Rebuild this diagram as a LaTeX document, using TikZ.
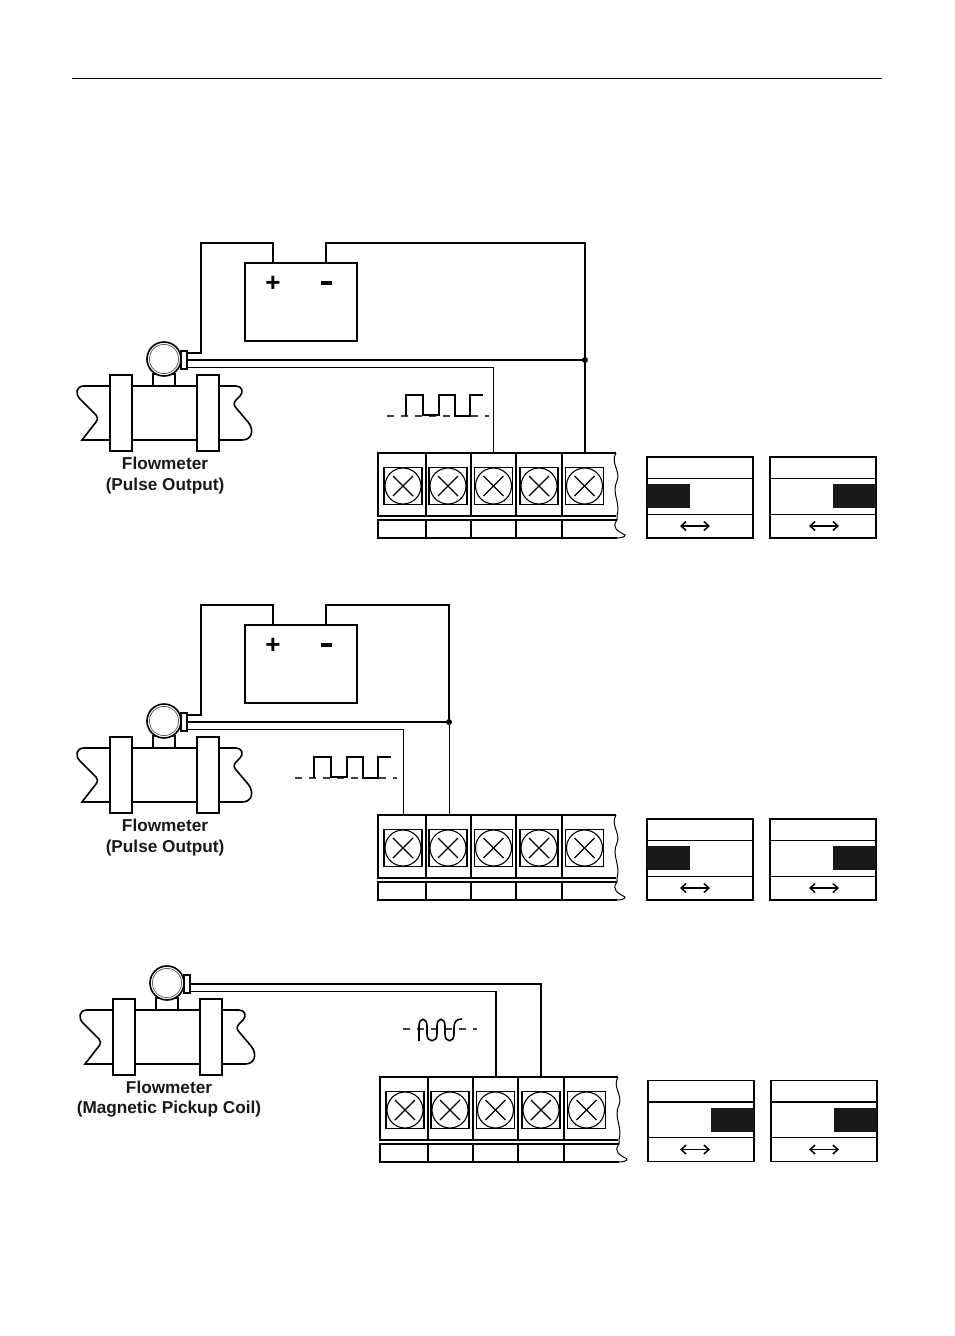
\documentclass[tikz,border=0pt]{standalone}
\usepackage{fontspec}
\setmainfont{Liberation Sans}
\usetikzlibrary{positioning,arrows.meta}
\tikzset{
	thickwire/.style={line width=2pt},
	medwire/.style={line width=1.4pt},
	thinwire/.style={line width=0.9pt},
	outline/.style={line width=1.6pt},
	screwbox/.style={draw, line width=1.6pt, minimum width=38pt, minimum height=37pt, inner sep=0pt, outer sep=0pt},
	battery/.style={draw, line width=1.5pt, minimum width=112pt, minimum height=78pt, inner sep=0pt, outer sep=0pt},
	polarity/.style={inner sep=0pt, font=\fontsize{26}{26}\selectfont\bfseries},
	fmlabel/.style={align=center, inner sep=0pt, font=\fontsize{17.2}{20.5}\selectfont\bfseries, text=black!90},
	junction/.style={circle, fill=black, inner sep=0pt, minimum size=6pt},
	pics/flowmeter/.style={code={
		\draw[outline] (-82,81) -- (-68,63) .. controls (-66,60) and (-66,58) .. (-68,56) -- (-84,40) .. controls (-89,35) and (-88,27) .. (-80,27) -- (72,27) .. controls (78,27) and (80,33) .. (76,37) -- (72,41) .. controls (69,44) and (70,47) .. (73,50) -- (84,63) .. controls (90,70) and (89,81) .. (78,81) -- cycle;
		\draw[outline, fill=white] (-54,16) rectangle (-32,92);
		\draw[outline, fill=white] (33,16) rectangle (55,92);
		\draw[outline, fill=white] (-11,15) rectangle (11,27);
		\draw[line width=1.2pt, fill=white] (17,-8) rectangle (23,10);
		\draw[outline, fill=white] (0,0) circle (17);
		\draw[line width=0.7pt, black!65] (0,0) circle (14.6);
		\coordinate (-sigtop) at (23,-6);
		\coordinate (-sigmid) at (23,1);
		\coordinate (-sigbot) at (23,8);
	}},
	pics/terminalstrip/.style={code={
		\draw[outline] (238,0) -- (0,0) -- (0,63) -- (238,63);
		\draw[outline] (239,67) -- (0,67) -- (0,85) -- (239,85);
		\draw[line width=1pt] (238,0) .. controls (232,10) and (243,18) .. (239,28) .. controls (233,40) and (243,50) .. (239,63) -- (239,67) .. controls (233,75) and (240,78) .. (247,82) .. controls (247,84) and (243,85) .. (239,85);
		\foreach \x in {48,93,138,184} {
			\draw[outline] (\x,0) -- (\x,63);
			\draw[outline] (\x,67) -- (\x,85);
		}
		\foreach \n/\x in {1/25,2/70,3/115.5,4/161,5/206.5} {
			\node[screwbox] (-s\n) at (\x,33) {};
			\draw[line width=1.1pt, fill=white] (-s\n.center) circle (18);
			\draw[line width=1.3pt] ([shift={(-10,-10)}]-s\n.center) -- ([shift={(10,10)}]-s\n.center);
			\draw[line width=1.3pt] ([shift={(-10,10)}]-s\n.center) -- ([shift={(10,-10)}]-s\n.center);
			\coordinate (-t\n) at (\x,0);
		}
	}},
	pics/switchbox/.style 2 args={code={
		\draw[outline] (0,0) rectangle (106,81);
		\draw[outline] (0,21.5) -- (106,21.5);
		\draw[thinwire] (0,57) -- (106,57);
		\fill[black!90] (#1,27) rectangle ++(43,24);
		\draw[{Straight Barb[length=5pt,width=9pt]}-{Straight Barb[length=5pt,width=9pt]}, line width=1.5pt] (#2,69) -- ++(30,0);
	}},
	pics/pulsetrain/.style={code={
		\draw[black!75, line width=1.2pt, dash pattern=on 7pt off 7pt] (0,21) -- (102,21);
		\draw[line width=1.4pt] (19,21) -- (19,0) -- (36,0) -- (36,20) -- (52,20) -- (52,0) -- (68,0) -- (68,21) -- (83,21) -- (83,0) -- (96,0);
	}}
}
\begin{document}
\begin{tikzpicture}[x=1pt, y=-1pt]
	\useasboundingbox (0,0) rectangle (954,1336);
	\coordinate (ruleL) at (72,78.5);
	\coordinate (ruleR) at (882,78.5);
	\draw[thinwire] (ruleL) -- (ruleR);

	% pulse output, top
	\pic (fmA) at (164,359) {flowmeter};
	\node[battery] (batA) at (301,302) {};
	\node[polarity] (batAplus) at (273,284) {+};
	\node[polarity] (batAminus) at (326,283) {\rule{11pt}{3.5pt}};
	\pic (tsA) at (378,453) {terminalstrip};
	\pic (pulA) at (387,395) {pulsetrain};
	\pic (swA1) at (647,457) {switchbox={0}{33}};
	\pic (swA2) at (770,457) {switchbox={63}{39}};
	\node[junction] (jctA) at (585,360) {};
	\node[fmlabel] (lblA) at (165,475.5) {Flowmeter\\(Pulse Output)};
	\coordinate (cornA1) at (201,243);
	\coordinate (cornA2) at (585,243);
	\draw[thickwire] (fmA-sigtop) -| (cornA1) -| (batAplus |- batA.north);
	\draw[medwire] (batAminus |- batA.north) |- (cornA2) -- (jctA);
	\draw[thickwire] (fmA-sigmid) -- (jctA);
	\draw[thickwire] (jctA) -- (jctA |- tsA-t5);
	\draw[thinwire] (fmA-sigbot) -| (tsA-t3);

	% pulse output, middle
	\pic (fmB) at (164,721) {flowmeter};
	\node[battery] (batB) at (301,664) {};
	\node[polarity] (batBplus) at (273,646) {+};
	\node[polarity] (batBminus) at (326,645) {\rule{11pt}{3.5pt}};
	\pic (tsB) at (378,815) {terminalstrip};
	\pic (pulB) at (295,757) {pulsetrain};
	\pic (swB1) at (647,819) {switchbox={0}{33}};
	\pic (swB2) at (770,819) {switchbox={63}{39}};
	\node[junction] (jctB) at (449,722) {};
	\node[fmlabel] (lblB) at (165,837.5) {Flowmeter\\(Pulse Output)};
	\coordinate (cornB1) at (201,605);
	\coordinate (cornB2) at (449,605);
	\draw[thickwire] (fmB-sigtop) -| (cornB1) -| (batBplus |- batB.north);
	\draw[medwire] (batBminus |- batB.north) |- (cornB2) -- (jctB);
	\draw[thickwire] (fmB-sigmid) -- (jctB);
	\draw[thinwire] (jctB) -- (jctB |- tsB-t2);
	\draw[thinwire] (fmB-sigbot) -| (tsB-t1);

	% magnetic pickup, bottom
	\pic (fmC) at (167,983) {flowmeter};
	\pic (tsC) at (380,1077) {terminalstrip};
	\draw[black!75, line width=1.2pt, dash pattern=on 7pt off 7pt] (403,1029) -- (477,1029);
	\draw[line width=1.6pt] (419,1041) -- (419,1026) .. controls (419,1017) and (427,1017) .. (427,1026) -- (427,1034) .. controls (427,1043) and (437,1043) .. (437,1034) -- (437,1026) .. controls (437,1017) and (445,1017) .. (445,1026) -- (445,1034) .. controls (445,1043) and (454,1043) .. (454,1034) -- (454,1028) .. controls (454,1021) and (457,1019) .. (462,1019);
	\pic (swC1) at (648,1080.5) {switchbox={63}{32}};
	\pic (swC2) at (771,1080.5) {switchbox={63}{38}};
	\node[fmlabel] (lblC) at (169,1099) {Flowmeter\\(Magnetic Pickup Coil)};
	\coordinate (cornC1) at (tsC-t3 |- fmC-sigbot);
	\draw[thickwire] (fmC-sigmid) -| (tsC-t4);
	\draw[thinwire] (fmC-sigbot) -- (cornC1);
	\draw[thickwire] (cornC1) -- (tsC-t3);
\end{tikzpicture}
\end{document}
